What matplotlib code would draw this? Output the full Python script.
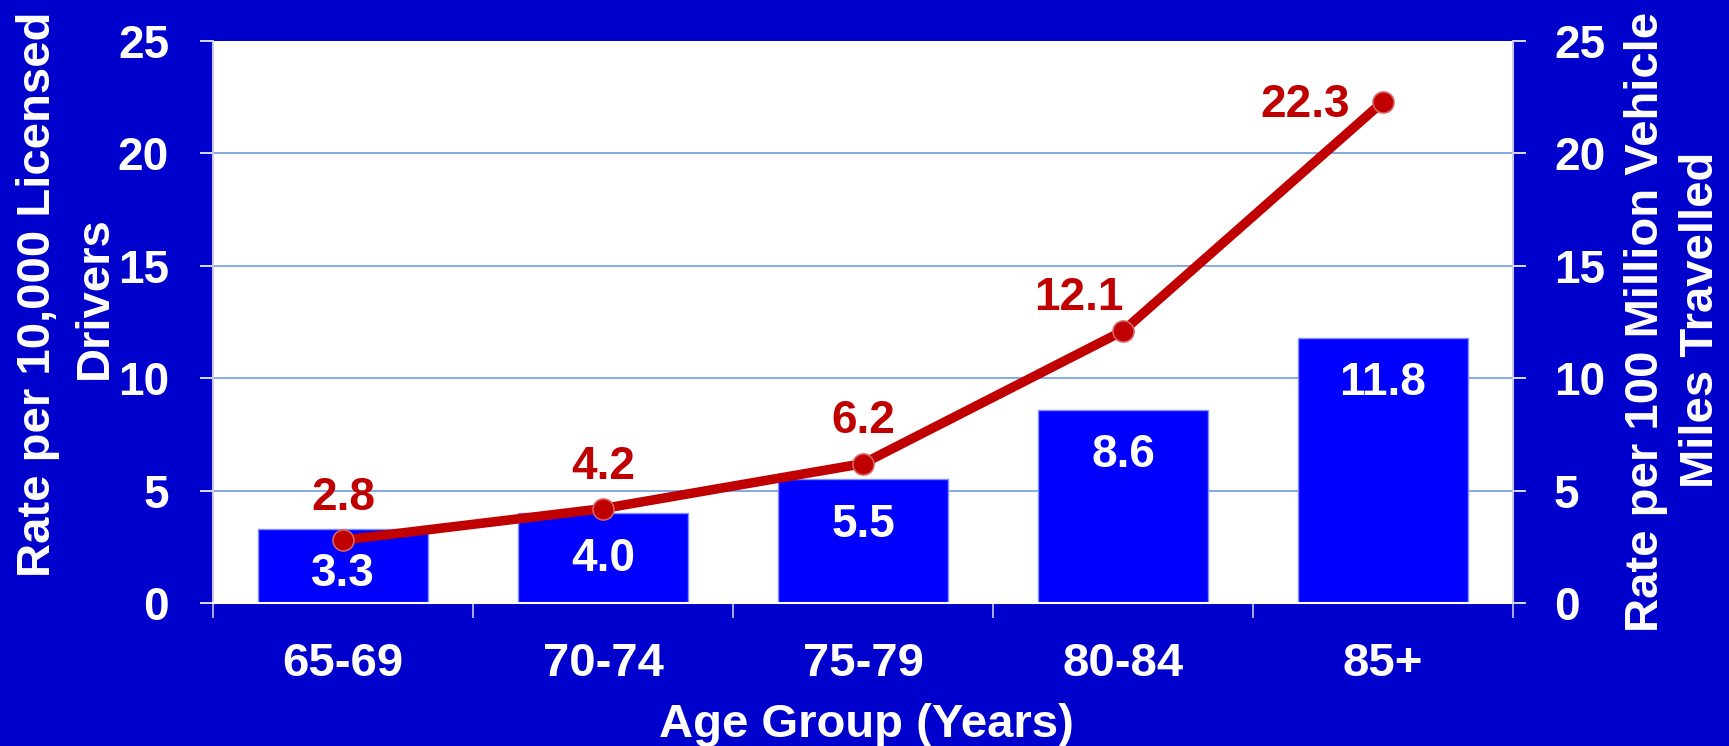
import matplotlib
matplotlib.use("Agg")
import matplotlib.pyplot as plt
import numpy as np

# ---- data ----
categories = ["65-69", "70-74", "75-79", "80-84", "85+"]
rate_licensed = [3.3, 4.0, 5.5, 8.6, 11.8]        # bars (left axis)
rate_vmt = [2.8, 4.2, 6.2, 12.1, 22.3]            # line (right axis)
yticks = [0, 5, 10, 15, 20, 25]

# offsets of line labels (px): (dx, baseline dy up)
line_label_offsets_px = [(0, 30), (0, 30), (0, 31), (-44, 21), (-78, -15)]

BG = "#0000cc"
BAR = "#0000ff"
RED = "#c00000"
W, H = 1729, 746
DPI = 100
PX = 72.0 / DPI

plt.rcParams["font.family"] = ["Liberation Sans", "DejaVu Sans"]
plt.rcParams["font.weight"] = "bold"

fig = plt.figure(figsize=(W / DPI, H / DPI), dpi=DPI, facecolor=BG)
ax = fig.add_axes([213 / W, 1 - 603 / H, 1300 / W, 562 / H])
ax.set_facecolor("white")

x = np.arange(len(categories))
bars = ax.bar(x, rate_licensed, width=0.654, color=BAR, edgecolor="#8090ff",
              linewidth=1, zorder=2)
ax.set_xlim(-0.5, len(categories) - 0.5)
ax.set_ylim(0, 25)
ax.set_yticks(yticks)
ax.set_axisbelow(True)
ax.yaxis.grid(True, color="#6f9be0", linewidth=1.2)
gl = ax.get_ygridlines()
gl[0].set_visible(False)
gl[-1].set_visible(False)

# bar labels inside top
for xi, v in zip(x, rate_licensed):
    ax.annotate(f"{v:.1f}", (xi, v), xytext=(0, -57.5 * PX), textcoords="offset points",
                ha="center", va="baseline", color="white", fontsize=33,
                fontweight="bold", zorder=3)

# x ticks
ax.set_xticks(x)
ax.set_xticklabels(categories)
ax.set_xticks(np.arange(-0.5, len(categories), 1.0), minor=True)
ax.tick_params(axis="x", which="major", length=0, pad=39 * PX, labelsize=34,
               labelcolor="white")
ax.tick_params(axis="x", which="minor", length=15 * PX, width=1.2, color="#c8c8f0")
ax.tick_params(axis="y", length=13 * PX, width=1.2, color="white", pad=31 * PX,
               labelsize=33, labelcolor="white")
for lab in ax.get_xticklabels() + ax.get_yticklabels():
    lab.set_fontweight("bold")

for s in ["top", "right"]:
    ax.spines[s].set_visible(False)
ax.spines["left"].set_color("#c8c8f0")
ax.spines["bottom"].set_color("white")
ax.spines["left"].set_linewidth(1.5)
ax.spines["bottom"].set_linewidth(1.5)

# secondary axis line
ax2 = ax.twinx()
ax2.set_ylim(0, 25)
ax2.set_yticks(yticks)
ax2.plot(x, rate_vmt, color=RED, linewidth=9.5 * PX, marker="o",
         markersize=21 * PX, markerfacecolor=RED, markeredgecolor="#d86060",
         markeredgewidth=1.2, zorder=4, solid_capstyle="round")
for xi, v, (dx, dy) in zip(x, rate_vmt, line_label_offsets_px):
    ax2.annotate(f"{v:.1f}", (xi, v), xytext=(dx * PX, dy * PX), textcoords="offset points",
                 ha="center", va="baseline", color=RED, fontsize=33, fontweight="bold")
ax2.tick_params(axis="y", length=13 * PX, width=1.2, color="white", pad=28 * PX,
                labelsize=33, labelcolor="white")
for lab in ax2.get_yticklabels():
    lab.set_fontweight("bold")
for s in ["top", "left", "bottom"]:
    ax2.spines[s].set_visible(False)
ax2.spines["right"].set_color("#c8c8f0")
ax2.spines["right"].set_linewidth(1.5)

# axis titles
kw = dict(rotation=90, rotation_mode="anchor", ha="center", va="baseline",
          color="white", fontsize=34, fontweight="bold")
fig.text(50 / W, 1 - 294 / H, "Rate per 10,000 Licensed", **kw)
fig.text(107 / W, 1 - 298 / H, "Drivers", **kw)
fig.text(1658 / W, 1 - 322 / H, "Rate per 100 Million Vehicle", **kw)
fig.text(1713 / W, 1 - 320 / H, "Miles Travelled", **kw)
fig.text(866 / W, 1 - 737 / H, "Age Group (Years)", ha="center", va="baseline",
         color="white", fontsize=34, fontweight="bold")

fig.savefig("out.png", dpi=DPI, facecolor=BG)
